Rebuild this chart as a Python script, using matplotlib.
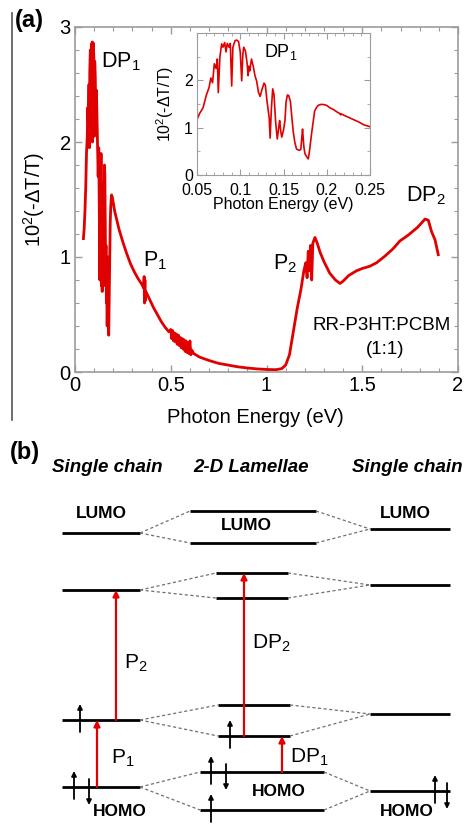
import numpy as np
import matplotlib
matplotlib.use('Agg')
import matplotlib.pyplot as plt
from matplotlib.lines import Line2D
from matplotlib.ticker import MultipleLocator

plt.rcParams['font.family'] = ['Liberation Sans', 'DejaVu Sans']
plt.rcParams['mathtext.fontset'] = 'custom'
plt.rcParams['mathtext.rm'] = 'Liberation Sans'
plt.rcParams['mathtext.it'] = 'Liberation Sans:italic'
plt.rcParams['mathtext.bf'] = 'Liberation Sans:bold'

# ---- panel (a): photoinduced absorption spectrum ----
main_e = [0.044, 0.048, 0.052, 0.056, 0.060, 0.064, 0.067, 0.070, 0.073, 0.075, 0.077, 0.080,
          0.083, 0.086, 0.088, 0.090, 0.091, 0.093, 0.096, 0.099, 0.101, 0.103, 0.106, 0.109,
          0.112, 0.115, 0.118, 0.121, 0.124, 0.126, 0.128, 0.130, 0.132, 0.134, 0.136, 0.138,
          0.140, 0.142, 0.144, 0.146, 0.148, 0.150, 0.152, 0.154, 0.156, 0.158, 0.160, 0.162,
          0.164, 0.166, 0.168, 0.170, 0.172, 0.174, 0.176, 0.178, 0.181, 0.184, 0.187, 0.191,
          0.195, 0.200, 0.207, 0.217, 0.230, 0.250, 0.270, 0.290, 0.310, 0.330, 0.350, 0.358,
          0.361, 0.363, 0.365, 0.367, 0.370, 0.390, 0.410, 0.430, 0.450, 0.470, 0.490, 0.500,
          0.505, 0.510, 0.515, 0.520, 0.525, 0.530, 0.535, 0.540, 0.545, 0.550, 0.555, 0.560,
          0.565, 0.570, 0.575, 0.580, 0.585, 0.590, 0.595, 0.600, 0.605, 0.610, 0.620, 0.650,
          0.700, 0.750, 0.800, 0.850, 0.900, 0.950, 1.000, 1.050, 1.080, 1.100, 1.120, 1.140,
          1.160, 1.180, 1.195, 1.205, 1.212, 1.218, 1.224, 1.230, 1.236, 1.242, 1.253, 1.265,
          1.280, 1.300, 1.330, 1.360, 1.384, 1.400, 1.430, 1.470, 1.500, 1.540, 1.575, 1.620,
          1.660, 1.697, 1.740, 1.790, 1.828, 1.845, 1.862, 1.880, 1.897]
main_dtt = [1.16, 1.25, 1.40, 1.60, 1.90, 2.05, 2.30, 2.15, 2.50, 1.95, 2.60, 2.80,
            2.65, 2.85, 2.75, 2.87, 2.00, 2.80, 2.86, 2.70, 2.05, 2.70, 2.55, 2.15,
            2.45, 2.20, 1.95, 1.70, 1.95, 1.60, 1.20, 0.80, 1.50, 0.85, 1.90, 0.75,
            1.40, 0.70, 1.20, 0.80, 1.30, 0.75, 1.50, 1.80, 1.70, 1.30, 0.90, 1.10,
            0.60, 0.70, 0.40, 0.75, 1.00, 0.45, 0.32, 0.55, 0.95, 1.30, 1.45, 1.54,
            1.52, 1.47, 1.40, 1.33, 1.24, 1.13, 1.03, 0.94, 0.87, 0.81, 0.76, 0.73,
            0.83, 0.60, 0.80, 0.62, 0.70, 0.63, 0.56, 0.50, 0.44, 0.39, 0.35, 0.37,
            0.29, 0.36, 0.27, 0.34, 0.26, 0.33, 0.24, 0.32, 0.23, 0.30, 0.21, 0.29,
            0.20, 0.28, 0.18, 0.27, 0.17, 0.25, 0.16, 0.27, 0.15, 0.19, 0.16, 0.13,
            0.10, 0.075, 0.06, 0.045, 0.035, 0.027, 0.022, 0.02, 0.03, 0.06, 0.15, 0.35,
            0.55, 0.72, 0.88, 0.95, 0.82, 1.05, 0.88, 1.10, 0.80, 1.12, 1.17, 1.12,
            1.04, 0.96, 0.86, 0.80, 0.77, 0.79, 0.84, 0.88, 0.90, 0.92, 0.95, 1.01,
            1.07, 1.14, 1.19, 1.26, 1.33, 1.32, 1.22, 1.15, 1.02]

# inset: zoom on the DP1 band
inset_e = [0.050, 0.053, 0.057, 0.061, 0.064, 0.066, 0.068, 0.070, 0.072, 0.0735, 0.0746, 0.0765,
           0.0785, 0.080, 0.082, 0.0835, 0.085, 0.087, 0.0885, 0.0901, 0.0915, 0.094, 0.096, 0.098,
           0.100, 0.1017, 0.103, 0.104, 0.106, 0.108, 0.109, 0.110, 0.111, 0.113, 0.115, 0.117,
           0.119, 0.121, 0.123, 0.125, 0.1275, 0.129, 0.131, 0.1335, 0.1345, 0.136, 0.1375, 0.139,
           0.141, 0.1428, 0.1445, 0.1455, 0.147, 0.148, 0.150, 0.1517, 0.153, 0.1545, 0.156, 0.158,
           0.160, 0.1613, 0.163, 0.165, 0.168, 0.170, 0.171, 0.172, 0.1735, 0.1748, 0.177, 0.1787,
           0.180, 0.1825, 0.1845, 0.186, 0.188, 0.190, 0.193, 0.196, 0.200, 0.2037, 0.208, 0.212,
           0.215, 0.216, 0.217, 0.220, 0.225, 0.231, 0.237, 0.243, 0.250]
inset_dtt = [1.17, 1.30, 1.42, 1.70, 1.85, 2.05, 1.95, 2.35, 2.25, 2.45, 1.74, 2.50,
             2.77, 2.70, 2.80, 2.60, 2.78, 2.70, 2.78, 1.88, 2.70, 2.84, 2.85, 2.82,
             2.60, 1.99, 2.55, 2.70, 2.62, 2.35, 2.10, 2.30, 2.20, 2.45, 2.30, 2.10,
             1.98, 1.75, 1.66, 1.80, 1.94, 1.90, 1.55, 1.20, 0.78, 1.40, 1.82, 1.70,
             1.10, 0.76, 1.00, 1.15, 0.90, 0.80, 0.95, 1.15, 1.55, 1.69, 1.68, 1.55,
             1.15, 0.91, 0.70, 0.55, 0.52, 0.54, 0.75, 0.97, 0.60, 0.45, 0.38, 0.34,
             0.50, 0.88, 1.15, 1.35, 1.42, 1.47, 1.49, 1.49, 1.47, 1.42, 1.38, 1.33,
             1.30, 1.27, 1.29, 1.26, 1.22, 1.17, 1.12, 1.06, 1.02]

# ---- panel (b): energy level diagram (diagram units, larger = lower energy) ----
# rows: LUMO, upper polaron, lower polaron, HOMO
single_left_y = [533, 590, 720, 787]
single_left_x = (62, 140)
lamellae_y = [(511, 543), (573, 598), (705, 736), (772, 810)]
lamellae_x = [(190, 316), (216, 288), (218, 290), (200, 324)]
single_right_y = [529, 585, 714, 791]
single_right_x = (370, 450)

# optical transitions: label, x, from level, to level, label position
transitions = [('P$_2$', 116, 720, 590, (136, 663)),
               ('P$_1$', 97, 787, 720, (123, 758)),
               ('DP$_2$', 244, 736, 573, (271, 643)),
               ('DP$_1$', 282, 772, 736, (309, 757))]
# spins: x, level, direction
spins = [(80, 720, 1), (74, 787, 1), (89, 787, -1),
         (230, 736, 1), (211, 772, 1), (226, 772, -1), (211, 810, 1), (226, 810, -1),
         (435, 791, 1), (447, 791, -1)]

red = '#e00000'
grey = '#9c9c9c'

fig = plt.figure(figsize=(4.69, 8.25), dpi=100)

ax = fig.add_axes([75 / 469, 1 - 372 / 825, 383 / 469, 345 / 825])
ax.plot(main_e, main_dtt, color=red, lw=2.0)
ax.set_xlim(0, 2)
ax.set_ylim(0, 3)
ax.xaxis.set_major_locator(MultipleLocator(0.5))
ax.xaxis.set_minor_locator(MultipleLocator(0.1))
ax.yaxis.set_major_locator(MultipleLocator(1))
ax.yaxis.set_minor_locator(MultipleLocator(0.2))
ax.xaxis.set_major_formatter(plt.FuncFormatter(lambda v, p: f'{v:g}'))
for s in ax.spines.values():
    s.set_color(grey)
    s.set_linewidth(1.2)
ax.tick_params(which='both', direction='in', top=True, right=True, color=grey,
               labelsize=14.5, pad=3)
ax.tick_params(which='major', length=5, width=1)
ax.tick_params(which='minor', length=3, width=0.8)
ax.set_xlabel('Photon Energy (eV)', fontsize=14.5)
ax.set_ylabel('10$^2$(-ΔT/T)', fontsize=14.5)
ax.xaxis.set_label_coords(0.47, -0.105)
ax.yaxis.set_label_coords(-0.072, 0.5)

ax.text(0.135, 2.65, 'DP$_1$', fontsize=15.5)
ax.text(0.355, 0.92, 'P$_1$', fontsize=15.5)
ax.text(1.035, 0.89, 'P$_2$', fontsize=15.5)
ax.text(1.73, 1.48, 'DP$_2$', fontsize=15.5)
ax.text(1.60, 0.365, 'RR-P3HT:PCBM', fontsize=13.5, ha='center')
ax.text(1.62, 0.16, '(1:1)', fontsize=13.5, ha='center')

axi = fig.add_axes([197 / 469, 1 - 175 / 825, 173 / 469, 142 / 825])
axi.plot(inset_e, inset_dtt, color=red, lw=1.2)
axi.set_xlim(0.05, 0.25)
axi.set_ylim(0, 3.0)
axi.xaxis.set_major_locator(MultipleLocator(0.05))
axi.xaxis.set_minor_locator(MultipleLocator(0.01))
axi.yaxis.set_major_locator(MultipleLocator(1))
axi.yaxis.set_minor_locator(MultipleLocator(0.5))
axi.set_yticks([0, 1, 2])
axi.xaxis.set_major_formatter(plt.FuncFormatter(lambda v, p: f'{v:g}'))
for s in axi.spines.values():
    s.set_color(grey)
axi.tick_params(which='both', direction='in', top=True, right=True, color=grey,
                labelsize=11.5)
axi.tick_params(axis='x', pad=6)
axi.tick_params(axis='y', pad=3)
axi.tick_params(which='major', length=4)
axi.tick_params(which='minor', length=2)
axi.set_xlabel('Photon Energy (eV)', fontsize=11.5, labelpad=-1)
axi.set_ylabel('10$^2$(-ΔT/T)', fontsize=11.5)
axi.yaxis.set_label_coords(-0.12, 0.5)
axi.text(0.1275, 2.49, 'DP$_1$', fontsize=13)

fig.text(15 / 469, 1 - 20 / 825, '(a)', fontsize=17, fontweight='bold', va='center')
fig.add_artist(Line2D([12 / 469, 12 / 469], [1 - 13 / 825, 1 - 420 / 825], color='#555555', lw=1.2))

# ---- panel (b) ----
axb = fig.add_axes([0, 0, 1, 385 / 825])
axb.set_xlim(0, 469)
axb.set_ylim(825, 440)
axb.axis('off')

for i in range(4):
    yl = single_left_y[i]
    yu, yd = lamellae_y[i]
    xa, xb = lamellae_x[i]
    yr = single_right_y[i]
    axb.hlines(yl, *single_left_x, color='black', lw=2)
    axb.hlines([yu, yd], xa, xb, color='black', lw=2)
    axb.hlines(yr, *single_right_x, color='black', lw=2)
    dash = dict(color='#707070', lw=0.9, ls=(0, (2.5, 2)))
    axb.plot([single_left_x[1], xa], [yl, yu], **dash)
    axb.plot([single_left_x[1], xa], [yl, yd], **dash)
    axb.plot([xb, single_right_x[0]], [yu, yr], **dash)
    axb.plot([xb, single_right_x[0]], [yd, yr], **dash)

for label, x, y0, y1, (tx, ty) in transitions:
    axb.annotate('', xy=(x, y1), xytext=(x, y0),
                 arrowprops=dict(arrowstyle='-|>', color=red, lw=1.6,
                                 mutation_scale=9, shrinkA=0, shrinkB=0))
    axb.text(tx, ty, label, fontsize=15, ha='center', va='center')

for x, y, d in spins:
    if d > 0:
        y0, y1 = y + 12, y - 16
    else:
        y0, y1 = y - 8, y + 18
    axb.annotate('', xy=(x, y1), xytext=(x, y0),
                 arrowprops=dict(arrowstyle='-|>', color='black', lw=1.3,
                                 mutation_scale=7, shrinkA=0, shrinkB=0))

for tx, ty, t in [(101, 513, 'LUMO'), (246, 526, 'LUMO'), (405, 513, 'LUMO'),
                  (120, 811, 'HOMO'), (279, 792, 'HOMO'), (407, 811, 'HOMO')]:
    axb.text(tx, ty, t, fontsize=12.5, fontweight='bold', ha='center', va='center')

for tx, t in [(107, 'Single chain'), (251, '2-D Lamellae'), (407, 'Single chain')]:
    axb.text(tx, 468, t, fontsize=13.5, fontweight='bold', fontstyle='italic',
             ha='center', va='center')
axb.text(10, 453, '(b)', fontsize=17, fontweight='bold', va='center')

fig.savefig('out.png', dpi=100)
